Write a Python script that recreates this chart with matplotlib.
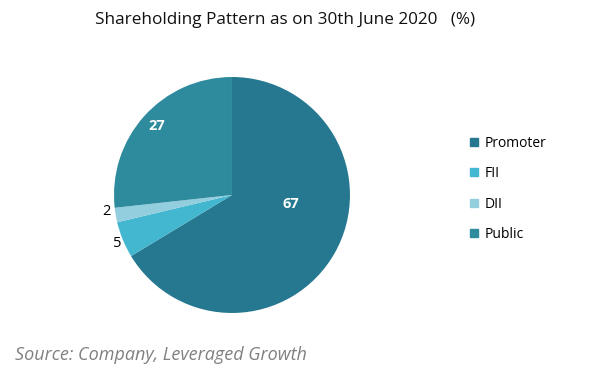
import matplotlib
matplotlib.use("Agg")
import matplotlib.pyplot as plt
from matplotlib.lines import Line2D

categories = ["Promoter", "FII", "DII", "Public"]
values = [67, 5, 2, 27]
colors = ["#267891", "#43B6D0", "#93CEDE", "#2E8B9E"]
label_pos = [(0.50, -0.076), (-0.975, -0.415), (-1.068, -0.144), (-0.636, 0.585)]
label_colors = ["white", "black", "black", "white"]

plt.rcParams['font.family'] = ['Open Sans', 'DejaVu Sans']

fig = plt.figure(figsize=(6, 3.78), dpi=100)
ax = fig.add_axes([0.19, 0.172, 0.3933, 0.6243])
wedges, _ = ax.pie(values, colors=colors, startangle=90, counterclock=False,
                   wedgeprops=dict(linewidth=0))
ax.set_xlim(-1, 1)
ax.set_ylim(-1, 1)
ax.set_aspect('equal')
for v, (x, y), c in zip(values, label_pos, label_colors):
    ax.text(x, y, str(v), color=c, fontsize=10.5, ha='center', va='center',
            fontweight='bold' if c == 'white' else 'normal')

fig.text(0.475, 0.948, "Shareholding Pattern as on 30th June 2020   (%)",
         ha='center', va='center', fontsize=12.3, color='#111111')

handles = [Line2D([], [], marker='s', linestyle='none', markersize=5.5,
                  markerfacecolor=c, markeredgecolor=c) for c in colors]
fig.legend(handles, categories, loc='center left', bbox_to_anchor=(0.763, 0.50),
           frameon=False, fontsize=10, labelspacing=1.1, handlelength=0.6,
           handletextpad=0.4)

fig.text(0.025, 0.06, "Source: Company, Leveraged Growth", ha='left', va='center',
         fontsize=13, style='italic', color='#808080')

fig.savefig("out.png", dpi=100, facecolor='white')
